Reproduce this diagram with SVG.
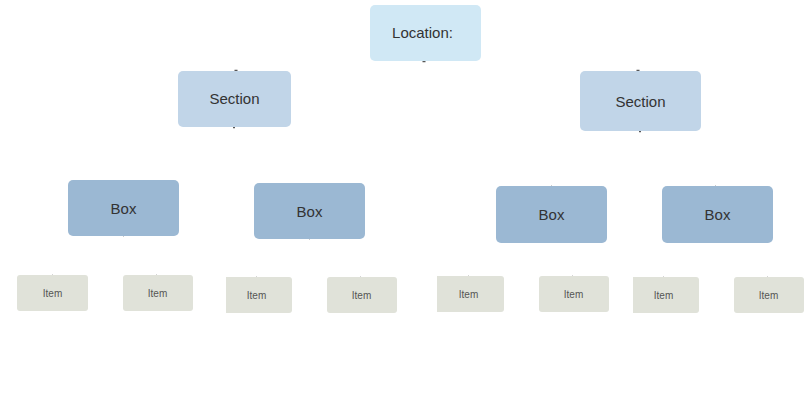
<svg xmlns="http://www.w3.org/2000/svg" width="810" height="403" viewBox="0 0 810 403">
<style>
text{font-family:"Liberation Sans",Arial,sans-serif;text-anchor:middle;dominant-baseline:central}
.loc{fill:#d0e8f5}
.sec{fill:#c1d5e8}
.box{fill:#9bb8d3}
.item{fill:#e0e2d9}
.t{font-size:15px;fill:#333}
.ti{font-size:10px;fill:#555}
.c{stroke:#555;stroke-width:1.5;fill:none}
</style>
<rect width="810" height="403" fill="#fff"/>
<g id="connectors">
<path class="c" d="M422.5 61.5h3"/>
<path class="c" d="M234.5 70.5h3M233 127.5h2"/>
<path class="c" d="M636.5 70.5h3M639 131.5h2"/>
<path class="c" d="M123 236h1M309 239h1M551 186h1M715 186h1" style="stroke:#999;stroke-width:1"/>
<path class="c" d="M52 275h1M156 275h1M256 277h1M360 277h1M468 276h1M572 276h1M663 277h1M767 277h1" style="stroke:#aaa;stroke-width:1"/>
</g>
<g id="location"><rect class="loc" x="370" y="5" width="111" height="56" rx="5"/><text class="t" x="422.5" y="32.5">Location:</text></g>
<g id="section1"><rect class="sec" x="178" y="71" width="113" height="56" rx="5"/><text class="t" x="234.5" y="98">Section</text></g>
<g id="section2"><rect class="sec" x="580" y="71" width="121" height="60" rx="5"/><text class="t" x="640.5" y="101">Section</text></g>
<g id="box1"><rect class="box" x="68" y="180" width="111" height="56" rx="5"/><text class="t" x="123.5" y="208">Box</text></g>
<g id="box2"><rect class="box" x="254" y="183" width="111" height="56" rx="5"/><text class="t" x="309.5" y="211">Box</text></g>
<g id="box3"><rect class="box" x="496" y="186" width="111" height="57" rx="5"/><text class="t" x="551.5" y="214">Box</text></g>
<g id="box4"><rect class="box" x="662" y="186" width="111" height="57" rx="5"/><text class="t" x="717.5" y="214">Box</text></g>
<g id="item1"><rect class="item" x="17" y="275" width="71" height="36" rx="3"/><text class="ti" x="52.5" y="293.5">Item</text></g>
<g id="item2"><rect class="item" x="123" y="275" width="70" height="36" rx="3"/><text class="ti" x="157.5" y="293.5">Item</text></g>
<g id="item3"><path class="item" d="M226 277h63a3 3 0 0 1 3 3v30a3 3 0 0 1-3 3h-63z"/><text class="ti" x="256.5" y="295.5">Item</text></g>
<g id="item4"><rect class="item" x="327" y="277" width="70" height="36" rx="3"/><text class="ti" x="361.5" y="295.5">Item</text></g>
<g id="item5"><path class="item" d="M437 276h64a3 3 0 0 1 3 3v30a3 3 0 0 1-3 3h-64z"/><text class="ti" x="468.5" y="294.5">Item</text></g>
<g id="item6"><rect class="item" x="539" y="276" width="70" height="36" rx="3"/><text class="ti" x="573.5" y="294.5">Item</text></g>
<g id="item7"><path class="item" d="M633 277h63a3 3 0 0 1 3 3v30a3 3 0 0 1-3 3h-63z"/><text class="ti" x="663.5" y="295.5">Item</text></g>
<g id="item8"><rect class="item" x="734" y="277" width="70" height="36" rx="3"/><text class="ti" x="768.5" y="295.5">Item</text></g>
</svg>
